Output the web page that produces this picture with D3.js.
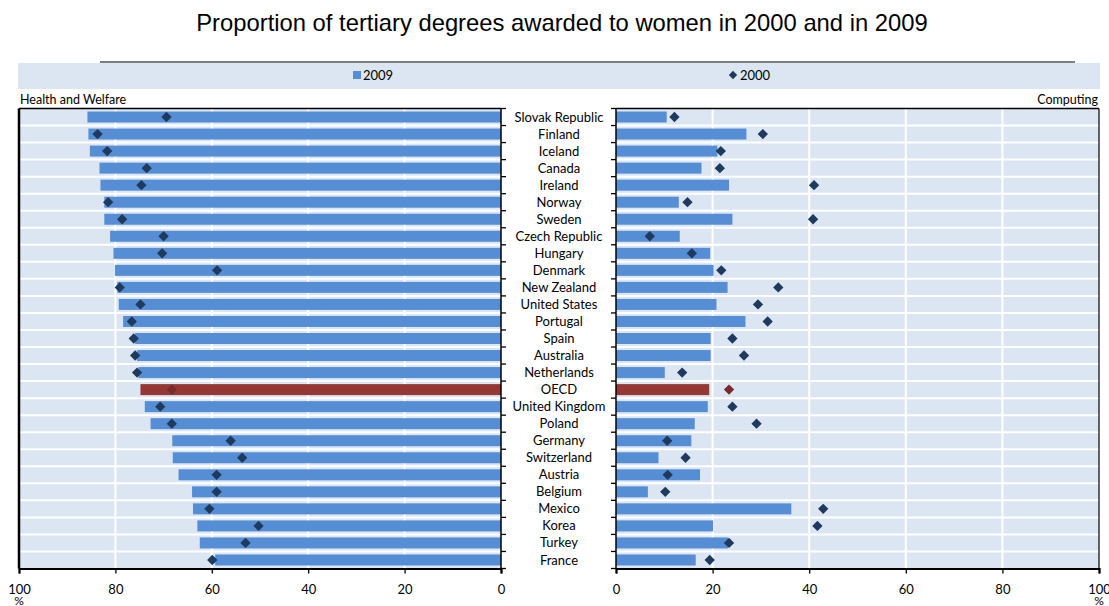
<!DOCTYPE html>
<html>
<head>
<meta charset="utf-8">
<script src="https://cdn.jsdelivr.net/npm/d3@7/dist/d3.min.js"></script>
<style>
  body { margin: 0; background: #fff; }
  text { font-family: Lato, "Liberation Sans", sans-serif; }
</style>
</head>
<body>
<svg id="chart" width="1109" height="606"></svg>
<script>
var countries = ["Slovak Republic", "Finland", "Iceland", "Canada", "Ireland", "Norway", "Sweden",
  "Czech Republic", "Hungary", "Denmark", "New Zealand", "United States", "Portugal", "Spain",
  "Australia", "Netherlands", "OECD", "United Kingdom", "Poland", "Germany", "Switzerland",
  "Austria", "Belgium", "Mexico", "Korea", "Turkey", "France"];

// Health and Welfare
var health2009 = [85.8, 85.6, 85.3, 83.3, 83.1, 82.3, 82.3, 81.1, 80.4, 80.1, 79.6, 79.3, 78.4, 75.9,
  75.5, 75.2, 74.8, 73.9, 72.7, 68.2, 68.1, 66.9, 64.1, 63.9, 63.0, 62.5, 59.3];
var health2000 = [69.4, 83.7, 81.7, 73.5, 74.6, 81.5, 78.6, 70.0, 70.3, 58.9, 79.1, 74.8, 76.6, 76.2,
  75.9, 75.5, 68.3, 70.7, 68.3, 56.1, 53.7, 59.0, 59.0, 60.5, 50.3, 53.0, 59.9];

// Computing
var comp2009 = [10.5, 27.0, 21.0, 17.7, 23.4, 13.0, 24.1, 13.2, 19.5, 20.2, 23.1, 20.8, 26.8, 19.6,
  19.6, 10.1, 19.3, 19.0, 16.3, 15.6, 8.8, 17.4, 6.6, 36.3, 20.1, 23.2, 16.5];
var comp2000 = [12.1, 30.4, 21.7, 21.5, 41.0, 14.8, 40.8, 7.0, 15.7, 21.8, 33.6, 29.4, 31.4, 24.1,
  26.5, 13.7, 23.4, 24.1, 29.1, 10.6, 14.4, 10.7, 10.2, 42.9, 41.7, 23.4, 19.4];

var ticks = [0, 20, 40, 60, 80, 100];

var bg = "#dce6f2", barCol = "#558ed5", dotCol = "#1f3a5f", oecdBar = "#953735", oecdDot = "#7a2a2a";

var svg = d3.select("#chart");

// title
svg.append("text")
  .attr("x", 562).attr("y", 31)
  .attr("text-anchor", "middle")
  .style("font-family", "'Liberation Sans', Arial, sans-serif")
  .style("font-size", "23.8px")
  .attr("fill", "#000")
  .text("Proportion of tertiary degrees awarded to women in 2000 and in 2009");

// legend band
svg.append("rect").attr("x", 18).attr("y", 63).attr("width", 1082).attr("height", 26).attr("fill", bg);
svg.append("line").attr("x1", 100).attr("x2", 1075).attr("y1", 62).attr("y2", 62)
  .attr("stroke", "#000").attr("stroke-width", 1);
svg.append("rect").attr("x", 353).attr("y", 71).attr("width", 8).attr("height", 8).attr("fill", barCol);
svg.append("text").attr("x", 363).attr("y", 80).style("font-size", "13px").text("2009");
svg.append("path").attr("d", d3.symbol(d3.symbolDiamond2, 44)()).attr("transform", "translate(733,75)").attr("fill", dotCol);
svg.append("text").attr("x", 740).attr("y", 80).style("font-size", "13px").text("2000");

var y = d3.scaleBand().domain(countries).range([108.5, 568.5]).paddingInner(0).paddingOuter(0);
var xL = d3.scaleLinear().domain([0, 100]).range([501, 19]);
var xR = d3.scaleLinear().domain([0, 100]).range([616, 1099]);
var barH = 11;

function panel(x, v2009, v2000, side) {
  var g = svg.append("g");
  var x0 = d3.min(x.range()), x1 = d3.max(x.range());
  var top = y.range()[0], bot = y.range()[1];
  g.append("rect").attr("x", x0).attr("y", top).attr("width", x1 - x0).attr("height", bot - top).attr("fill", bg);

  // vertical grid
  g.selectAll(".vg").data([20, 40, 60, 80]).enter().append("line")
    .attr("x1", d => x(d)).attr("x2", d => x(d)).attr("y1", top).attr("y2", bot)
    .attr("stroke", "#fff").attr("stroke-width", 2);
  // row separators
  g.selectAll(".hg").data(countries.slice(1)).enter().append("line")
    .attr("x1", x0).attr("x2", x1).attr("y1", d => y(d)).attr("y2", d => y(d))
    .attr("stroke", "#fff").attr("stroke-width", 2);

  // bars
  g.selectAll(".bar").data(countries).enter().append("rect")
    .attr("x", (d, i) => Math.min(x(0), x(v2009[i])))
    .attr("width", (d, i) => Math.abs(x(v2009[i]) - x(0)))
    .attr("y", d => y(d) + (y.bandwidth() - barH) / 2)
    .attr("height", barH)
    .attr("fill", d => d === "OECD" ? oecdBar : barCol);

  // diamonds
  g.selectAll(".dot").data(countries).enter().append("path")
    .attr("d", d3.symbol(d3.symbolDiamond2, 68)())
    .attr("transform", (d, i) => "translate(" + x(v2000[i]) + "," + (y(d) + y.bandwidth() / 2) + ")")
    .attr("fill", d => d === "OECD" ? oecdDot : dotCol);

  // frame: top border
  g.append("line").attr("x1", x0).attr("x2", x1).attr("y1", top).attr("y2", top).attr("stroke", "#000").attr("stroke-width", 1.5);
  // outer side border
  var outer = side === "left" ? x0 : x1;
  g.append("line").attr("x1", outer).attr("x2", outer).attr("y1", top).attr("y2", bot)
    .attr("stroke", "#000").attr("stroke-width", side === "left" ? 2.5 : 1.2);

  // category axis line with boundary ticks
  var ax = x(0), dir = side === "left" ? 1 : -1;
  g.append("line").attr("x1", ax).attr("x2", ax).attr("y1", top).attr("y2", bot).attr("stroke", "#000").attr("stroke-width", 1.5);
  g.selectAll(".ct").data(countries.concat(["_end"])).enter().append("line")
    .attr("x1", ax).attr("x2", ax + dir * 5)
    .attr("y1", (d, i) => top + i * y.step()).attr("y2", (d, i) => top + i * y.step())
    .attr("stroke", "#000").attr("stroke-width", 1.3);

  // value axis
  var axis = g.append("g").attr("transform", "translate(0," + bot + ")")
    .call(d3.axisBottom(x).tickValues(ticks).tickSize(5).tickPadding(11).tickFormat(d3.format("d")));
  axis.select(".domain").attr("stroke-width", 2.2);
  axis.selectAll("line").attr("stroke-width", 1.3);
  axis.selectAll("text").style("font-family", "Lato, sans-serif").style("font-size", "13px");
  g.append("text").attr("x", x(100)).attr("y", 605).attr("text-anchor", "middle")
    .style("font-size", "12px").text("%");
}

panel(xL, health2009, health2000, "left");
panel(xR, comp2009, comp2000, "right");

// panel titles
svg.append("text").attr("x", 20).attr("y", 104).style("font-size", "12.5px").text("Health and Welfare");
svg.append("text").attr("x", 1098).attr("y", 104).attr("text-anchor", "end").style("font-size", "12.5px").text("Computing");

// country labels
svg.selectAll(".lbl").data(countries).enter().append("text")
  .attr("x", 559).attr("y", d => y(d) + y.bandwidth() / 2)
  .attr("dy", "0.35em").attr("text-anchor", "middle")
  .style("font-size", "13px").text(d => d);
</script>
</body>
</html>
